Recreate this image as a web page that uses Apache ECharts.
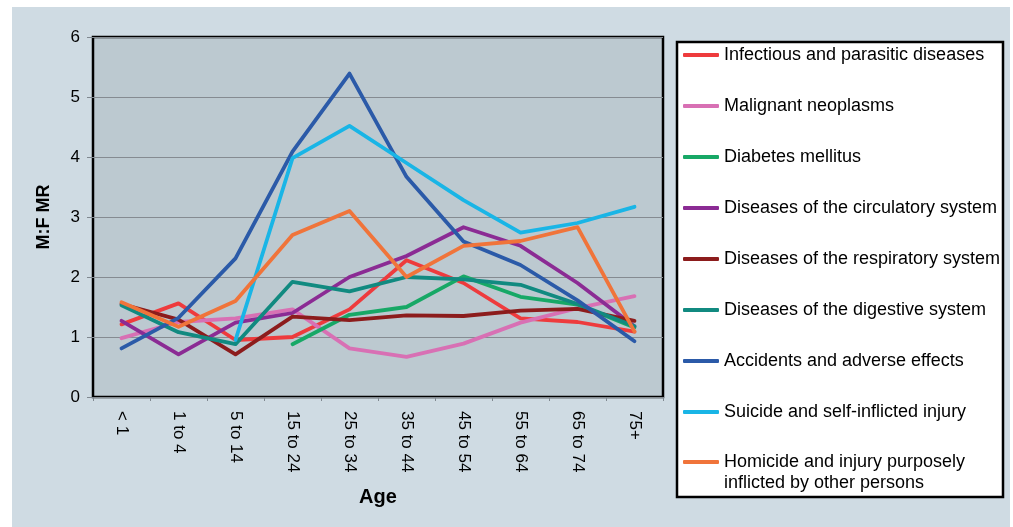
<!DOCTYPE html>
<html>
<head>
<meta charset="utf-8">
<script src="https://cdn.jsdelivr.net/npm/echarts@6/dist/echarts.min.js"></script>
<style>
html,body{margin:0;padding:0;background:#fff;}
#chart{width:1013px;height:527px;}
</style>
</head>
<body>
<div id="chart"></div>
<script>
var categories = ['< 1', '1 to 4', '5 to 14', '15 to 24', '25 to 34', '35 to 44', '45 to 54', '55 to 64', '65 to 74', '75+'];
var yTicks = [0, 1, 2, 3, 4, 5, 6];

var infectious   = [1.21, 1.56, 0.95, 1.00, 1.46, 2.28, 1.90, 1.31, 1.25, 1.09];
var malignant    = [0.98, 1.25, 1.31, 1.46, 0.81, 0.67, 0.89, 1.24, 1.48, 1.68];
var diabetes     = [null, null, null, 0.88, 1.37, 1.50, 2.01, 1.67, 1.54, 1.16];
var circulatory  = [1.27, 0.71, 1.24, 1.40, 2.00, 2.35, 2.83, 2.52, 1.90, 1.18];
var respiratory  = [1.55, 1.29, 0.71, 1.34, 1.28, 1.36, 1.35, 1.44, 1.47, 1.27];
var digestive    = [1.53, 1.08, 0.88, 1.92, 1.76, 2.00, 1.96, 1.87, 1.55, 1.18];
var accidents    = [0.81, 1.32, 2.31, 4.09, 5.39, 3.67, 2.59, 2.20, 1.61, 0.93];
var suicide      = [null, null, 0.95, 3.98, 4.52, 3.90, 3.28, 2.74, 2.90, 3.17];
var homicide     = [1.58, 1.17, 1.60, 2.70, 3.10, 2.00, 2.52, 2.60, 2.83, 1.09];

var seriesNames = [
  'Infectious and parasitic diseases',
  'Malignant neoplasms',
  'Diabetes mellitus',
  'Diseases of the circulatory system',
  'Diseases of the respiratory system',
  'Diseases of the digestive system',
  'Accidents and adverse effects',
  'Suicide and self-inflicted injury',
  'Homicide and injury purposely\ninflicted by other persons'
];
var seriesData = [infectious, malignant, diabetes, circulatory, respiratory, digestive, accidents, suicide, homicide];
var seriesColors = ['#ee3b3d', '#d870b4', '#17a866', '#8b2b94', '#8c1c1c', '#118a80', '#2b5aa8', '#19b5e6', '#f0743a'];

var FONT = '"Liberation Sans", Arial, sans-serif';

var chart = echarts.init(document.getElementById('chart'), null, {renderer: 'canvas'});

var series = seriesData.map(function (d, i) {
  return {
    name: seriesNames[i],
    type: 'line',
    data: d,
    showSymbol: false,
    symbol: 'none',
    connectNulls: false,
    lineStyle: {color: seriesColors[i], width: 3.8, cap: 'round', join: 'round'},
    itemStyle: {color: seriesColors[i]},
    emphasis: {disabled: true},
    z: 3 + i
  };
});

var legendText = {fontFamily: FONT, fontSize: 18, color: '#000', lineHeight: 21};

var option = {
  backgroundColor: '#ffffff',
  animation: false,
  graphic: [
    {type: 'rect', z: -10, silent: true, shape: {x: 12, y: 7, width: 998, height: 520}, style: {fill: '#cfdbe3'}},
    {type: 'rect', z: -5, silent: true, shape: {x: 677, y: 42, width: 326, height: 455}, style: {fill: '#ffffff', stroke: '#000', lineWidth: 2.5}}
  ],
  grid: {
    left: 93, top: 37, width: 570, height: 360,
    show: true, backgroundColor: '#bcc9d0', borderColor: '#000', borderWidth: 2.5
  },
  legend: [
    {
      orient: 'vertical', left: 683, top: 44.5, padding: 0, itemGap: 30,
      itemWidth: 36, itemHeight: 4, icon: 'roundRect',
      data: seriesNames.slice(0, 8),
      textStyle: legendText,
      selectedMode: false
    },
    {
      orient: 'vertical', left: 683, top: 430.5, padding: 0, itemGap: 30,
      itemWidth: 36, itemHeight: 4, icon: 'roundRect',
      data: seriesNames.slice(8),
      formatter: function (name) { return ' \n' + name; },
      textStyle: legendText,
      selectedMode: false
    }
  ],
  xAxis: {
    type: 'category',
    data: categories,
    boundaryGap: true,
    name: 'Age',
    nameLocation: 'middle',
    nameGap: 90,
    nameTextStyle: {fontFamily: FONT, fontSize: 20, fontWeight: 'bold', color: '#000'},
    axisLine: {show: false},
    axisTick: {show: true, length: 4, lineStyle: {color: '#808890', width: 1}},
    axisLabel: {rotate: -90, margin: 14, fontFamily: FONT, fontSize: 17, color: '#000', interval: 0},
    splitLine: {show: false}
  },
  yAxis: {
    type: 'value',
    min: 0, max: 6, interval: 1,
    name: 'M:F MR',
    nameLocation: 'middle',
    nameGap: 40,
    nameTextStyle: {fontFamily: FONT, fontSize: 18, fontWeight: 'bold', color: '#000'},
    axisLine: {show: false},
    axisTick: {show: true, length: 6, lineStyle: {color: '#808890', width: 1}},
    axisLabel: {margin: 13, fontFamily: FONT, fontSize: 17, color: '#000',
      formatter: function (v) { return yTicks.indexOf(v) >= 0 ? String(v) : ''; }},
    splitLine: {show: true, lineStyle: {color: '#858b91', width: 1}}
  },
  series: series
};

chart.setOption(option);
</script>
</body>
</html>
